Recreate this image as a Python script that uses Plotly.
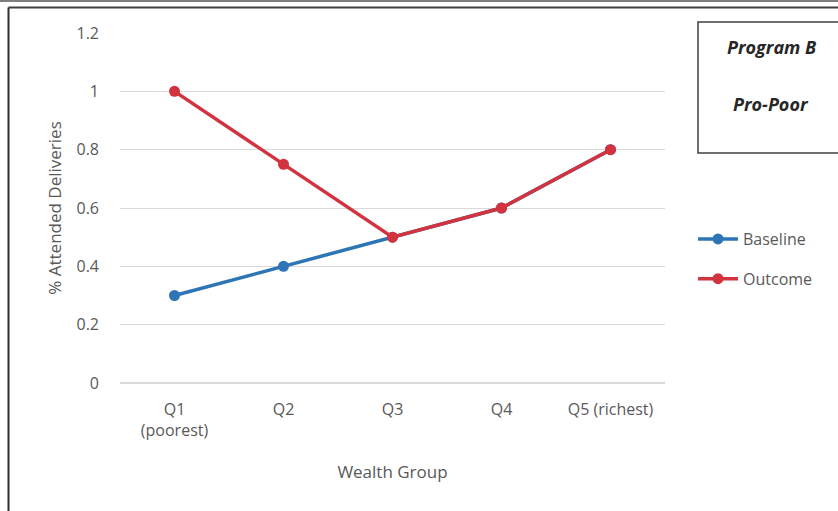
import plotly.graph_objects as go

categories = ["Q1<br>(poorest)", "Q2", "Q3", "Q4", "Q5 (richest)"]
baseline = [0.3, 0.4, 0.5, 0.6, 0.8]
outcome = [1.0, 0.75, 0.5, 0.6, 0.8]
y_ticks = [0, 0.2, 0.4, 0.6, 0.8, 1, 1.2]
y_ticktext = ["0", "0.2", "0.4", "0.6", "0.8", "1", "1.2"]

BLUE = "#2E75B6"
RED = "#D3323F"
FONT = "Open Sans"
GRAY = "#595959"

fig = go.Figure()
fig.add_trace(go.Scatter(x=categories, y=baseline, name="Baseline", mode="lines+markers",
                         line=dict(color=BLUE, width=3.5), marker=dict(size=11, color=BLUE),
                         legendgroup="a"))
fig.add_trace(go.Scatter(x=categories, y=outcome, name="Outcome", mode="lines+markers",
                         line=dict(color=RED, width=3.5), marker=dict(size=11, color=RED),
                         legendgroup="b"))

W, H = 838, 511
L, R, T, B = 120, 173, 33, 128
pw, ph = W - L - R, H - T - B

def px(x):
    return (x - L) / pw

def py(y):
    return (H - B - y) / ph

shapes = [
    dict(type="line", xref="paper", yref="paper", x0=px(0), x1=px(838), y0=py(1), y1=py(1),
         line=dict(color="#7f7f7f", width=2)),
    dict(type="line", xref="paper", yref="paper", x0=px(8.5), x1=px(838), y0=py(7.5), y1=py(7.5),
         line=dict(color="#404040", width=2)),
    dict(type="line", xref="paper", yref="paper", x0=px(8.5), x1=px(8.5), y0=py(7.5), y1=py(520),
         line=dict(color="#303030", width=2)),
    dict(type="rect", xref="paper", yref="paper", x0=px(698), x1=px(860), y0=py(22), y1=py(153),
         line=dict(color="#404040", width=1.5), fillcolor="white"),
]

annotations = [
    dict(text="<b><i>Program B</i></b>", x=px(771), y=py(47), xref="paper", yref="paper",
         xanchor="center", yanchor="middle",
         showarrow=False, font=dict(family=FONT, size=18, color="#262626")),
    dict(text="<b><i>Pro-Poor</i></b>", x=px(771), y=py(104), xref="paper", yref="paper",
         xanchor="center", yanchor="middle",
         showarrow=False, font=dict(family=FONT, size=18, color="#262626")),
]

fig.update_layout(
    width=W, height=H,
    margin=dict(l=L, r=R, t=T, b=B),
    plot_bgcolor="white", paper_bgcolor="white",
    font=dict(family=FONT, size=16, color=GRAY),
    shapes=shapes, annotations=annotations,
    legend=dict(x=px(693), y=py(222), xanchor="left", yanchor="top",
                font=dict(family=FONT, size=16, color=GRAY),
                itemwidth=40, tracegroupgap=16, bgcolor="rgba(0,0,0,0)"),
    xaxis=dict(type="category", range=[-0.5, 4.5], showgrid=False, zeroline=False,
               showline=False, ticks="", ticklabelstandoff=15,
               title=dict(text="Wealth Group", font=dict(family=FONT, size=17, color=GRAY), standoff=26),
               tickfont=dict(family=FONT, size=16, color=GRAY)),
    yaxis=dict(range=[0, 1.2], tickvals=y_ticks, ticktext=y_ticktext, showgrid=True,
               gridcolor="#d9d9d9", gridwidth=1, zeroline=True, zerolinecolor="#d9d9d9",
               showline=False, ticks="", ticklabelstandoff=20,
               title=dict(text="% Attended Deliveries", font=dict(family=FONT, size=17, color=GRAY), standoff=10),
               tickfont=dict(family=FONT, size=16, color=GRAY)),
)

fig.write_html("out.html")
